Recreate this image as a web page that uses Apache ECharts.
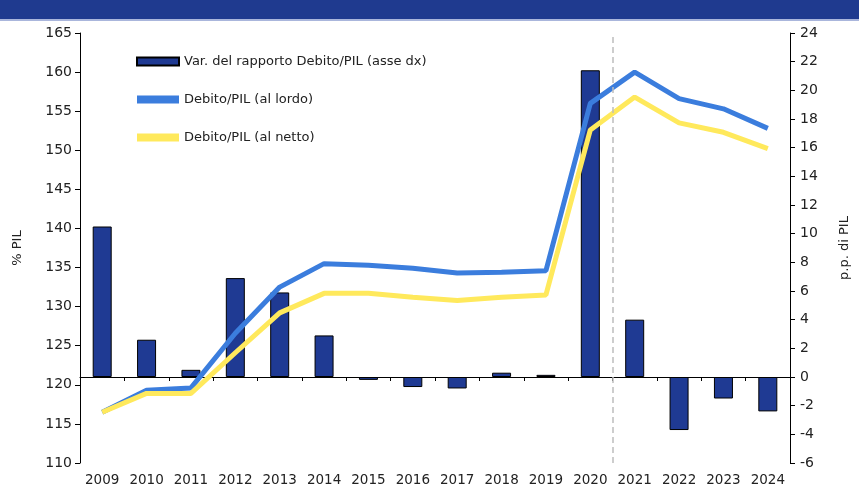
<!DOCTYPE html>
<html>
<head>
<meta charset="utf-8">
<script src="https://cdn.jsdelivr.net/npm/echarts@6/dist/echarts.min.js"></script>
<style>
  html, body { margin: 0; padding: 0; background: #fff; }
  #chart { width: 859px; height: 493px; }
</style>
</head>
<body>
<div id="chart"></div>
<script>
// anni
var years = ['2009', '2010', '2011', '2012', '2013', '2014', '2015', '2016',
    '2017', '2018', '2019', '2020', '2021', '2022', '2023', '2024'];
// variazione del rapporto debito/PIL, p.p. (asse dx)
var varRapporto = [10.5, 2.6, 0.5, 6.9, 5.9, 2.9, -0.2, -0.7, -0.8, 0.3, 0.15, 21.4, 4.0, -3.7, -1.5, -2.4];
// debito/PIL al lordo, %
var debitoLordo = [116.5, 119.3, 119.6, 126.6, 132.5, 135.5, 135.3, 134.9, 134.3, 134.4, 134.6, 156.0, 160.0, 156.6, 155.3, 152.8];
// debito/PIL al netto, %
var debitoNetto = [116.5, 118.9, 118.9, 124.1, 129.2, 131.7, 131.7, 131.2, 130.8, 131.2, 131.5, 152.6, 156.8, 153.5, 152.3, 150.2];
// separatore consuntivo / previsioni: bordo sinistro della banda del 2021
var forecastSplit = years.indexOf('2021');

var font = 'DejaVu Sans';
var txt = '#222';

var myChart = echarts.init(document.getElementById('chart'));

var option = {
    backgroundColor: '#fff',
    animation: false,
    textStyle: { fontFamily: font },
    graphic: [
        { type: 'rect', shape: { x: 0, y: 0, width: 859, height: 19 }, style: { fill: '#1f3a8f' } },
        { type: 'rect', shape: { x: 0, y: 19, width: 859, height: 2 }, style: { fill: '#aab6dc' } }
    ],
    grid: { left: 80, right: 62, top: 33, bottom: 30 },
    legend: {
        orient: 'vertical',
        left: 131,
        top: 50,
        itemWidth: 42,
        itemHeight: 8,
        itemGap: 25,
        textStyle: { fontFamily: font, fontSize: 13, color: txt },
        data: [
            { name: 'Var. del rapporto Debito/PIL (asse dx)', icon: 'rect' },
            { name: 'Debito/PIL (al lordo)', icon: 'rect' },
            { name: 'Debito/PIL (al netto)', icon: 'rect' }
        ]
    },
    xAxis: [{
        type: 'category',
        data: years,
        axisLine: { onZero: true, onZeroAxisIndex: 1, lineStyle: { color: '#000', width: 1 } },
        axisTick: { show: true, length: 4, lineStyle: { color: '#000' } },
        axisLabel: { show: false },
        splitLine: { show: false }
    }, {
        type: 'category',
        data: years,
        position: 'bottom',
        axisLine: { show: false },
        axisTick: { show: false },
        axisLabel: { interval: 0, fontFamily: font, fontSize: 13.5, color: txt, margin: 10 }
    }, {
        // asse nascosto in unità di banda, solo per il separatore
        type: 'value',
        min: 0,
        max: years.length,
        show: false
    }],
    yAxis: [{
        type: 'value',
        position: 'left',
        min: 110,
        max: 165,
        interval: 5,
        name: '% PIL',
        nameLocation: 'middle',
        nameRotate: 90,
        nameGap: 56,
        nameTextStyle: { fontFamily: font, fontSize: 13, color: txt },
        axisLine: { show: true, lineStyle: { color: '#000' } },
        axisTick: { show: true, length: 5, lineStyle: { color: '#000' } },
        axisLabel: { fontFamily: font, fontSize: 14, color: txt, margin: 8 },
        splitLine: { show: false }
    }, {
        type: 'value',
        position: 'right',
        min: -6,
        max: 24,
        interval: 2,
        name: 'p.p. di PIL',
        nameLocation: 'middle',
        nameRotate: 90,
        nameGap: 48,
        nameTextStyle: { fontFamily: font, fontSize: 13, color: txt },
        axisLine: { show: true, lineStyle: { color: '#000' } },
        axisTick: { show: true, length: 5, lineStyle: { color: '#000' } },
        axisLabel: { fontFamily: font, fontSize: 14, color: txt, margin: 10 },
        splitLine: { show: false }
    }],
    series: [{
        name: 'Var. del rapporto Debito/PIL (asse dx)',
        type: 'bar',
        xAxisIndex: 0,
        yAxisIndex: 1,
        barWidth: 19,
        data: varRapporto,
        itemStyle: { color: '#1f3a93', borderColor: '#000', borderWidth: 1 },
        z: 2
    }, {
        name: 'separatore',
        type: 'line',
        xAxisIndex: 2,
        yAxisIndex: 1,
        data: [],
        silent: true,
        markLine: {
            silent: true,
            symbol: 'none',
            label: { show: false },
            lineStyle: { color: '#bdbdbd', type: [6, 4], width: 1.5 },
            data: [{ xAxis: forecastSplit }]
        }
    }, {
        name: 'Debito/PIL (al lordo)',
        type: 'line',
        xAxisIndex: 0,
        yAxisIndex: 0,
        data: debitoLordo,
        symbol: 'none',
        lineStyle: { color: '#3b7ddd', width: 5 },
        itemStyle: { color: '#3b7ddd' },
        z: 3
    }, {
        name: 'Debito/PIL (al netto)',
        type: 'line',
        xAxisIndex: 0,
        yAxisIndex: 0,
        data: debitoNetto,
        symbol: 'none',
        lineStyle: { color: '#ffe95c', width: 5 },
        itemStyle: { color: '#ffe95c' },
        z: 4
    }]
};

myChart.setOption(option);
</script>
</body>
</html>
